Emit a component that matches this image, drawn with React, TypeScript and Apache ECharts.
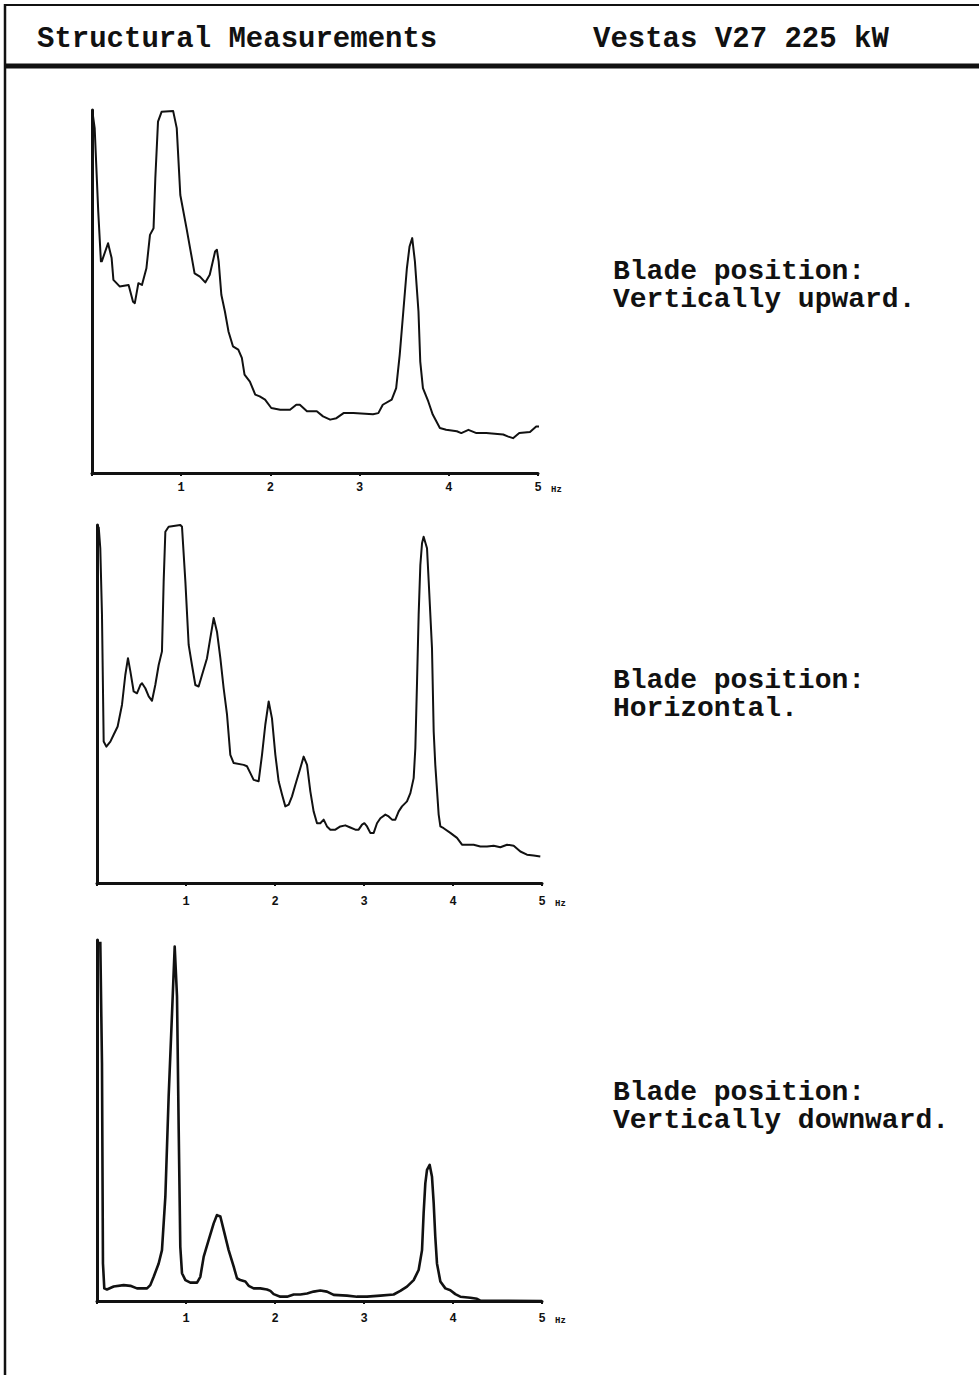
import React, { useEffect, useRef } from "react";
import * as echarts from "echarts";

// Frequency axis ticks (Hz)
const freqTicks = [1, 2, 3, 4, 5];

// Blade vertically upward
const upwardHz = [0.005, 0.03, 0.07, 0.10, 0.11, 0.18, 0.22, 0.24, 0.31, 0.41,
  0.42, 0.46, 0.48, 0.52, 0.56, 0.61, 0.65, 0.69, 0.71, 0.74,
  0.78, 0.91, 0.95, 0.99, 1.06, 1.10, 1.15, 1.21, 1.27, 1.32,
  1.38, 1.40, 1.42, 1.45, 1.49, 1.53, 1.58, 1.64, 1.68, 1.71,
  1.77, 1.83, 1.88, 1.94, 2.01, 2.11, 2.22, 2.29, 2.33, 2.41,
  2.52, 2.59, 2.67, 2.74, 2.82, 2.93, 3.15, 3.21, 3.26, 3.36,
  3.41, 3.45, 3.49, 3.53, 3.56, 3.59, 3.62, 3.66, 3.68, 3.71,
  3.77, 3.82, 3.90, 3.97, 4.09, 4.14, 4.22, 4.31, 4.42, 4.61,
  4.66, 4.72, 4.79, 4.91, 4.98, 5.02, 5.06, 5.09];
const upwardAmp = [99.5, 95, 72, 58.3, 58.3, 63.3, 59.2, 53.2, 51.4, 51.8,
  50.9, 47.2, 46.8, 52.3, 51.8, 56.4, 65.6, 67.4, 81.2, 96.8,
  99.5, 99.7, 95, 76.6, 67.4, 61.9, 55.0, 54.1, 52.5, 54.6,
  61.0, 61.5, 58.3, 49.1, 44.5, 39.0, 34.9, 34.0, 31.7, 27.1,
  25.2, 21.6, 21.1, 20.2, 17.9, 17.4, 17.4, 18.8, 18.8, 17.0,
  17.0, 15.6, 14.7, 15.1, 16.5, 16.5, 16.2, 16.5, 18.8, 20.2,
  23.4, 32.6, 44.5, 56.4, 62.4, 64.7, 58.3, 44.5, 30.7, 23.4,
  19.7, 16.1, 12.4, 11.9, 11.5, 11.0, 11.9, 11.0, 11.0, 10.6,
  10.1, 9.6, 11.0, 11.3, 12.8, 12.8, 11.9, 10.6];

// Blade horizontal
const horizontalHz = [0.019, 0.037, 0.056, 0.075, 0.105, 0.150, 0.187, 0.232, 0.281, 0.318,
  0.348, 0.375, 0.412, 0.449, 0.487, 0.506, 0.543, 0.581, 0.618, 0.655,
  0.693, 0.730, 0.749, 0.768, 0.805, 0.936, 0.955, 0.993, 1.030, 1.067,
  1.105, 1.142, 1.180, 1.236, 1.273, 1.311, 1.348, 1.386, 1.423, 1.461,
  1.498, 1.536, 1.648, 1.685, 1.723, 1.760, 1.816, 1.854, 1.891, 1.929,
  1.966, 2.004, 2.041, 2.079, 2.116, 2.154, 2.191, 2.228, 2.285, 2.322,
  2.360, 2.397, 2.434, 2.472, 2.509, 2.547, 2.584, 2.622, 2.678, 2.734,
  2.790, 2.846, 2.903, 2.940, 2.978, 3.004, 3.034, 3.071, 3.109, 3.146,
  3.184, 3.240, 3.277, 3.315, 3.352, 3.390, 3.427, 3.483, 3.521, 3.558,
  3.577, 3.596, 3.614, 3.633, 3.652, 3.670, 3.708, 3.727, 3.764, 3.783,
  3.801, 3.839, 3.858, 3.895, 3.970, 4.045, 4.101, 4.157, 4.232, 4.307,
  4.382, 4.457, 4.532, 4.607, 4.682, 4.757, 4.831, 4.906, 4.981];
const horizontalAmp = [99.5, 93.5, 74.9, 39.5, 38.1, 39.5, 41.4, 43.7, 49.8, 58.1,
  62.8, 59.1, 53.5, 53.0, 55.3, 55.8, 54.4, 52.1, 50.9, 55.3,
  60.9, 64.7, 84.2, 98.1, 99.5, 100, 99.5, 84.2, 66.5, 60.9,
  55.3, 54.9, 58.1, 62.8, 68.4, 74.0, 70.2, 62.8, 54.4, 47.0,
  35.8, 33.5, 33.0, 32.6, 30.7, 28.8, 28.4, 35.8, 44.2, 50.7,
  46.0, 35.8, 28.4, 24.7, 21.4, 21.9, 24.2, 27.4, 32.1, 35.3,
  33.0, 25.6, 20.0, 16.7, 16.7, 17.7, 15.8, 14.9, 14.9, 15.8,
  16.1, 15.5, 14.9, 14.9, 16.3, 16.7, 15.8, 14.0, 14.0, 16.7,
  18.1, 19.1, 18.6, 17.7, 17.7, 20.0, 21.4, 22.8, 25.1, 29.3,
  37.7, 56.3, 74.9, 88.8, 94.9, 96.7, 93.5, 84.2, 65.6, 42.3,
  33.0, 19.1, 15.8, 15.3, 14.0, 12.6, 10.7, 10.7, 10.7, 10.2,
  10.2, 10.4, 10.0, 10.7, 10.4, 8.8, 7.9, 7.7, 7.4];

// Blade vertically downward
const downwardHz = [0.037, 0.056, 0.067, 0.082, 0.112, 0.187, 0.300, 0.375, 0.449, 0.562,
  0.599, 0.637, 0.693, 0.730, 0.768, 0.805, 0.843, 0.873, 0.899, 0.918,
  0.936, 0.955, 0.993, 1.049, 1.124, 1.161, 1.199, 1.255, 1.311, 1.348,
  1.386, 1.423, 1.479, 1.536, 1.573, 1.610, 1.667, 1.704, 1.760, 1.835,
  1.910, 1.948, 1.985, 2.060, 2.135, 2.210, 2.285, 2.360, 2.434, 2.509,
  2.584, 2.659, 2.809, 2.921, 3.034, 3.184, 3.333, 3.408, 3.483, 3.558,
  3.614, 3.652, 3.670, 3.689, 3.708, 3.738, 3.764, 3.783, 3.801, 3.820,
  3.858, 3.914, 3.970, 4.026, 4.082, 4.195, 4.270, 4.307, 5.0];
const downwardAmp = [99.5, 65.8, 10.4, 3.5, 3.2, 4.0, 4.4, 4.2, 3.5, 3.5,
  4.4, 6.7, 10.4, 14.1, 28.9, 56.6, 79.7, 98.2, 84.3, 47.4,
  15.0, 7.7, 5.8, 5.1, 5.1, 6.7, 12.3, 16.9, 21.5, 23.8,
  23.4, 19.7, 14.1, 9.5, 6.3, 5.8, 5.4, 4.2, 3.5, 3.5,
  3.2, 2.8, 1.9, 1.2, 1.2, 1.8, 1.8, 2.1, 2.6, 2.9,
  2.6, 1.7, 1.5, 1.2, 1.2, 1.5, 1.8, 2.8, 4.0, 5.8,
  8.6, 14.1, 24.3, 32.6, 36.3, 37.7, 34.4, 27.1, 17.8, 10.4,
  5.4, 3.5, 3.0, 1.9, 1.2, 0.9, 0.6, 0.1, 0];

const headerLeft = "Structural Measurements";
const headerRight = "Vestas V27 225 kW";
const captionTitle = "Blade position:";
const captions = ["Vertically upward.", "Horizontal.", "Vertically downward."];

const zip = (xs: number[], ys: number[]) => {
  const n = Math.min(xs.length, ys.length);
  const out: number[][] = [];
  for (let i = 0; i < n; i++) out.push([xs[i], ys[i]]);
  return out;
};

const MONO = '"Liberation Mono", "DejaVu Sans Mono", monospace';
const INK = "#111";

export default function App() {
  const ref = useRef<HTMLDivElement>(null);

  useEffect(() => {
    if (!ref.current) return;
    const chart = echarts.init(ref.current, undefined, { renderer: "svg" });

    const grids = [
      { left: 92, top: 110, width: 446, height: 363 },
      { left: 97, top: 525, width: 445, height: 358 },
      { left: 97, top: 940, width: 445, height: 361 },
    ];
    const labelMargins = [9, 13, 12];
    const lineWidths = [2, 2, 2.6];
    const seriesData = [
      zip(upwardHz, upwardAmp),
      zip(horizontalHz, horizontalAmp),
      zip(downwardHz, downwardAmp),
    ];
    const captionTop = [257, 666, 1078];

    const xAxis = grids.map((_, i) => ({
      gridIndex: i,
      type: "value",
      min: 0,
      max: 5,
      interval: 1,
      axisLine: { show: true, onZero: false, lineStyle: { color: INK, width: 3 } },
      axisTick: { show: true, length: 3, lineStyle: { color: INK, width: 2 } },
      axisLabel: {
        show: true,
        margin: labelMargins[i],
        formatter: (v: number) => (freqTicks.includes(v) ? String(v) : ""),
        fontFamily: MONO,
        fontWeight: "bold",
        fontSize: 12,
        color: INK,
      },
      splitLine: { show: false },
      name: "Hz",
      nameLocation: "end",
      nameGap: 13,
      nameTextStyle: {
        fontFamily: MONO,
        fontWeight: "bold",
        fontSize: 9,
        color: INK,
        verticalAlign: "top",
        padding: [labelMargins[i] + 3, 0, 0, 0],
      },
    }));

    const yAxis = grids.map((_, i) => ({
      gridIndex: i,
      type: "value",
      min: 0,
      max: 100,
      axisLine: { show: true, lineStyle: { color: INK, width: 3 } },
      axisTick: { show: false },
      axisLabel: { show: false },
      splitLine: { show: false },
    }));

    const series = seriesData.map((d, i) => ({
      type: "line",
      xAxisIndex: i,
      yAxisIndex: i,
      data: d,
      showSymbol: false,
      symbol: "none",
      clip: false,
      lineStyle: { color: INK, width: lineWidths[i], join: "round" },
    }));

    const textEl = (text: string, x: number, y: number) => ({
      type: "text",
      x,
      y,
      style: {
        text,
        font: `bold 29px ${MONO}`,
        fill: INK,
        verticalAlign: "middle",
        align: "left",
      },
    });

    const graphic: any[] = [
      { type: "line", shape: { x1: 5, y1: 5, x2: 979, y2: 5 }, style: { stroke: INK, lineWidth: 2 } },
      { type: "line", shape: { x1: 5, y1: 4, x2: 5, y2: 1375 }, style: { stroke: INK, lineWidth: 2.5 } },
      { type: "line", shape: { x1: 5, y1: 66, x2: 979, y2: 66 }, style: { stroke: INK, lineWidth: 5 } },
      textEl(headerLeft, 37, 39),
      textEl(headerRight, 593, 39),
    ];
    captionTop.forEach((y, i) => {
      graphic.push({
        type: "text",
        x: 613,
        y,
        style: {
          text: `${captionTitle}\n${captions[i]}`,
          font: `bold 28px ${MONO}`,
          lineHeight: 28.5,
          fill: INK,
          verticalAlign: "top",
          align: "left",
        },
      });
    });

    chart.setOption({
      animation: false,
      backgroundColor: "#ffffff",
      grid: grids,
      xAxis,
      yAxis,
      series,
      graphic,
    } as any);

    return () => chart.dispose();
  }, []);

  return (
    <div
      ref={ref}
      style={{ position: "absolute", left: 0, top: 0, width: 979, height: 1375, background: "#fff" }}
    />
  );
}
